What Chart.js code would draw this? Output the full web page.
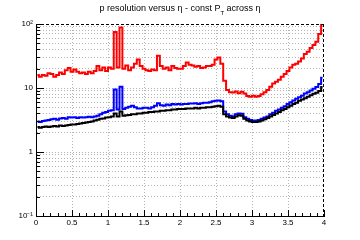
<!DOCTYPE html>
<html>
<head>
<meta charset="utf-8">
<script src="https://cdn.jsdelivr.net/npm/chart.js@4.4.1/dist/chart.umd.min.js"></script>
<style>
  html, body { margin: 0; padding: 0; background: #fff; }
  #wrap { width: 360px; height: 240px; }
</style>
</head>
<body>
<div id="wrap"><canvas id="chart-res"></canvas></div>
<script>
// eta histogram, 100 bins of 0.04 from 0 to 4
var binWidth = 0.04;

var redRes = [
    16, 15, 16, 15.5, 17, 16.5, 15, 16, 17.5, 16.5,
    19, 20.5, 18, 19.5, 18, 17, 17.5, 16.5, 18, 17,
    18.5, 22, 19, 21, 18.5, 21, 20, 75, 21, 88,
    20, 22.5, 19, 21, 24, 28, 22, 20, 19, 18.5,
    19.5, 19, 32, 22, 20, 21, 19, 22, 20.5, 20,
    20, 22, 25, 23, 22.5, 21.5, 22, 20.5, 21, 22,
    22, 23, 28, 30, 24, 13, 9.3, 8.6, 8.5, 8.8,
    8.3, 8.7, 8.2, 7.5, 7.3, 7.6, 7.3, 7.5, 8.0, 8.6,
    9.3, 10.5, 11.8, 12.5, 13.5, 15, 16.5, 18.5, 21, 23,
    24, 26, 29, 34, 37, 42, 47, 53, 70, 97
];
var blueRes = [
    3.0, 2.95, 3.05, 3.1, 3.15, 3.25, 3.3, 3.2, 3.35, 3.4,
    3.3, 3.5, 3.45, 3.5, 3.4, 3.5, 3.45, 3.5, 3.55, 3.5,
    3.6, 3.7, 3.9, 4.1, 4.2, 4.4, 4.5, 9.5, 4.6, 10.5,
    4.7, 4.9, 5.1, 5.3, 5.0, 4.8, 4.8, 4.9, 4.9, 4.8,
    5.0, 5.3, 5.8, 5.4, 5.3, 5.5, 5.4, 5.6, 5.5, 5.6,
    5.5, 5.6, 5.6, 5.7, 5.7, 5.8, 5.6, 5.8, 5.9, 5.9,
    6.0, 6.2, 6.3, 6.4, 6.2, 4.3, 3.9, 3.7, 3.6, 3.9,
    4.0, 3.95, 3.5, 3.3, 3.15, 3.1, 3.1, 3.15, 3.3, 3.45,
    3.6, 3.9, 4.1, 4.4, 4.6, 4.9, 5.2, 5.6, 6.0, 6.4,
    6.8, 7.2, 7.6, 8.2, 8.6, 9.1, 9.7, 10.4, 11.5, 14.5
];
var blackRes = [
    2.45, 2.4, 2.45, 2.5, 2.45, 2.5, 2.55, 2.5, 2.6, 2.55,
    2.6, 2.65, 2.7, 2.7, 2.75, 2.8, 2.85, 2.9, 2.95, 3.0,
    3.1, 3.2, 3.3, 3.35, 3.45, 3.5, 3.6, 4.0, 3.6, 4.3,
    3.7, 3.75, 3.8, 3.9, 3.9, 4.0, 4.0, 4.1, 4.1, 4.2,
    4.2, 4.3, 4.3, 4.4, 4.4, 4.5, 4.5, 4.6, 4.6, 4.7,
    4.7, 4.7, 4.8, 4.8, 4.8, 4.9, 4.8, 4.9, 4.9, 5.0,
    5.0, 5.1, 5.2, 5.3, 5.1, 3.9, 3.6, 3.45, 3.4, 3.6,
    3.75, 3.7, 3.3, 3.1, 3.0, 2.95, 2.95, 3.0, 3.1, 3.25,
    3.4, 3.6, 3.8, 4.0, 4.2, 4.5, 4.7, 5.0, 5.3, 5.6,
    5.9, 6.3, 6.6, 6.9, 7.3, 7.7, 8.1, 8.4, 9.0, 10.4
];

var xMajorTicks = [0, 0.5, 1, 1.5, 2, 2.5, 3, 3.5, 4];
var yDecadeTicks = [0.1, 1, 10, 100];
var yDecadeLabels = ["10\u207B\u00B9", "1", "10", "10\u00B2"];

var etaCenters = redRes.map(function(_, i) { return (i + 0.5) * binWidth; });

function toPoints(values) {
    return values.map(function(v, i) { return { x: etaCenters[i], y: v }; });
}

function isMajorX(v) {
    return Math.abs(v * 2 - Math.round(v * 2)) < 1e-6;
}
function isDecade(v) {
    var l = Math.log10(v);
    return Math.abs(l - Math.round(l)) < 1e-6;
}

// ROOT-like frame: inward ticks, dashed top/right, title with subscript
var rootFrame = {
    id: 'rootFrame',
    afterDraw: function(chart) {
        var ctx = chart.ctx;
        var area = chart.chartArea;
        var xs = chart.scales.x, ys = chart.scales.y;
        ctx.save();
        ctx.strokeStyle = '#000';
        ctx.lineWidth = 1;

        ctx.setLineDash([3, 2]);
        ctx.beginPath();
        ctx.moveTo(area.left, area.top + 0.5);
        ctx.lineTo(area.right, area.top + 0.5);
        ctx.moveTo(area.right - 0.5, area.top);
        ctx.lineTo(area.right - 0.5, area.bottom);
        ctx.stroke();
        ctx.setLineDash([]);

        ctx.beginPath();
        xs.ticks.forEach(function(t) {
            var px = Math.round(xs.getPixelForValue(t.value)) + 0.5;
            var len = isMajorX(t.value) ? 6 : 3;
            ctx.moveTo(px, area.bottom);
            ctx.lineTo(px, area.bottom - len);
        });
        ys.ticks.forEach(function(t) {
            var py = Math.round(ys.getPixelForValue(t.value)) + 0.5;
            var len = isDecade(t.value) ? 8 : 4;
            ctx.moveTo(area.left, py);
            ctx.lineTo(area.left + len, py);
        });
        ctx.stroke();

        // title
        var mainFont = '9px "Liberation Sans", Arial, sans-serif';
        var subFont = '6px "Liberation Sans", Arial, sans-serif';
        var part1 = 'p resolution versus \u03B7 - const P';
        var part2 = 'T';
        var part3 = ' across \u03B7';
        ctx.fillStyle = '#000';
        ctx.textBaseline = 'alphabetic';
        ctx.textAlign = 'left';
        ctx.font = mainFont;
        var w1 = ctx.measureText(part1).width;
        var w3 = ctx.measureText(part3).width;
        ctx.font = subFont;
        var w2 = ctx.measureText(part2).width;
        var x0 = chart.width / 2 - (w1 + w2 + w3) / 2;
        ctx.font = mainFont;
        ctx.fillText(part1, x0, 11);
        ctx.font = subFont;
        ctx.fillText(part2, x0 + w1, 15);
        ctx.font = mainFont;
        ctx.fillText(part3, x0 + w1 + w2, 11);
        ctx.restore();
    }
};

var ctx1 = document.getElementById('chart-res').getContext('2d');

new Chart(ctx1, {
    type: 'line',
    data: {
        datasets: [{
            label: 'red',
            data: toPoints(redRes),
            borderColor: '#ff0000',
            borderWidth: 2,
            pointRadius: 0,
            stepped: 'middle',
            fill: false,
            order: 3,
        }, {
            label: 'blue',
            data: toPoints(blueRes),
            borderColor: '#0000ff',
            borderWidth: 2,
            pointRadius: 0,
            stepped: 'middle',
            fill: false,
            order: 2,
        }, {
            label: 'black',
            data: toPoints(blackRes),
            borderColor: '#000000',
            borderWidth: 2,
            pointRadius: 0,
            stepped: 'middle',
            fill: false,
            order: 1,
        }],
    },
    options: {
        responsive: true,
        maintainAspectRatio: false,
        animation: false,
        events: [],
        layout: { padding: { left: 0, right: 36, top: 24, bottom: 0 } },
        plugins: {
            legend: { display: false },
            tooltip: { enabled: false },
            title: { display: false },
        },
        scales: {
            x: {
                type: 'linear',
                min: 0,
                max: 4,
                afterBuildTicks: function(scale) {
                    var t = [];
                    for (var i = 0; i <= 40; i++) t.push({ value: i / 10 });
                    scale.ticks = t;
                },
                afterFit: function(scale) { scale.height = 24; },
                grid: {
                    drawTicks: false,
                    color: function(c) {
                        if (!c.tick) return 'rgba(0,0,0,0)';
                        var v = c.tick.value;
                        if (v <= 0 || v >= 4) return 'rgba(0,0,0,0)';
                        return isMajorX(v) ? '#b4b4b4' : 'rgba(0,0,0,0)';
                    },
                    lineWidth: 1,
                },
                border: { display: true, color: '#000', width: 1, dash: [1, 2], dashOffset: 0 },
                ticks: {
                    autoSkip: false,
                    maxRotation: 0,
                    padding: 2,
                    color: '#000',
                    font: { size: 8, family: '"Liberation Sans", Arial, sans-serif' },
                    callback: function(value) {
                        var idx = xMajorTicks.findIndex(function(m) { return Math.abs(m - value) < 1e-6; });
                        return idx >= 0 ? String(xMajorTicks[idx]) : '';
                    },
                },
            },
            y: {
                type: 'logarithmic',
                min: 0.1,
                max: 100,
                afterBuildTicks: function(scale) {
                    var t = [];
                    for (var d = -1; d < 2; d++) {
                        for (var m = 1; m < 10; m++) t.push({ value: m * Math.pow(10, d) });
                    }
                    t.push({ value: 100 });
                    scale.ticks = t;
                },
                afterFit: function(scale) { scale.width = 36; },
                grid: {
                    drawTicks: false,
                    color: function(c) {
                        if (!c.tick) return 'rgba(0,0,0,0)';
                        var v = c.tick.value;
                        if (v <= 0.1 + 1e-9 || v >= 100 - 1e-9) return 'rgba(0,0,0,0)';
                        return '#b4b4b4';
                    },
                    lineWidth: 1,
                },
                border: { display: true, color: '#000', width: 1, dash: [1, 2], dashOffset: 0 },
                ticks: {
                    autoSkip: false,
                    padding: 3,
                    color: '#000',
                    font: { size: 8, family: '"Liberation Sans", Arial, sans-serif' },
                    callback: function(value) {
                        var idx = yDecadeTicks.findIndex(function(d) { return Math.abs(d - value) / d < 1e-6; });
                        return idx >= 0 ? yDecadeLabels[idx] : '';
                    },
                },
            },
        },
    },
    plugins: [rootFrame],
});
</script>
</body>
</html>
